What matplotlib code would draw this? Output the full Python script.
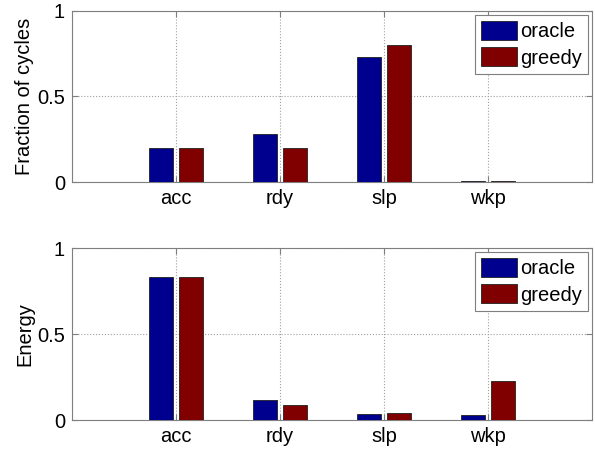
import numpy as np
import matplotlib
matplotlib.use("Agg")
import matplotlib.pyplot as plt

plt.rcParams["font.family"] = ["Liberation Sans", "DejaVu Sans"]
plt.rcParams["font.size"] = 14.5

states = ["acc", "rdy", "slp", "wkp"]
series = ["oracle", "greedy"]
colors = ["#00008f", "#800000"]

cycles_oracle = [0.20, 0.28, 0.73, 0.003]
cycles_greedy = [0.20, 0.20, 0.80, 0.006]
energy_oracle = [0.83, 0.118, 0.035, 0.031]
energy_greedy = [0.83, 0.087, 0.039, 0.227]

panels = [
    ("Fraction of cycles", cycles_oracle, cycles_greedy),
    ("Energy", energy_oracle, energy_greedy),
]

fig = plt.figure(figsize=(5.95, 4.5), dpi=100)
# axes boxes in figure fractions (left, bottom, width, height)
boxes = [
    (72 / 595, 1 - 182 / 450, 520 / 595, 171 / 450),
    (72 / 595, 1 - 420 / 450, 520 / 595, 172 / 450),
]

x = np.arange(1, len(states) + 1)
w = 0.23
off = 0.144
grey = "#7f7f7f"

for box, (ylabel, orc, grd) in zip(boxes, panels):
    ax = fig.add_axes(box)
    ax.bar(x - off, orc, w, color=colors[0], edgecolor="#202020", lw=0.6, label=series[0], zorder=3)
    ax.bar(x + off, grd, w, color=colors[1], edgecolor="#202020", lw=0.6, label=series[1], zorder=3)
    ax.set_xlim(0, 5)
    ax.set_ylim(0, 1)
    ax.set_xticks(x)
    ax.set_xticklabels(states)
    ax.set_yticks([0, 0.5, 1])
    ax.set_yticklabels(["0", "0.5", "1"])
    ax.set_ylabel(ylabel, labelpad=2)
    ax.grid(True, ls=":", color="#a0a0a0", lw=0.8, zorder=0)
    ax.tick_params(direction="in", length=4, color=grey, top=True, right=True,
                   labeltop=False, labelright=False, pad=5)
    for s in ax.spines.values():
        s.set_color(grey)
        s.set_linewidth(0.8)
    leg = ax.legend(loc="upper right", handlelength=1.8, handleheight=1.05,
                    handletextpad=0.15, borderpad=0.3, labelspacing=0.3,
                    fancybox=False, framealpha=1, borderaxespad=0.2)
    leg.get_frame().set_edgecolor(grey)
    leg.get_frame().set_linewidth(0.8)

fig.savefig("out.png", dpi=100)
